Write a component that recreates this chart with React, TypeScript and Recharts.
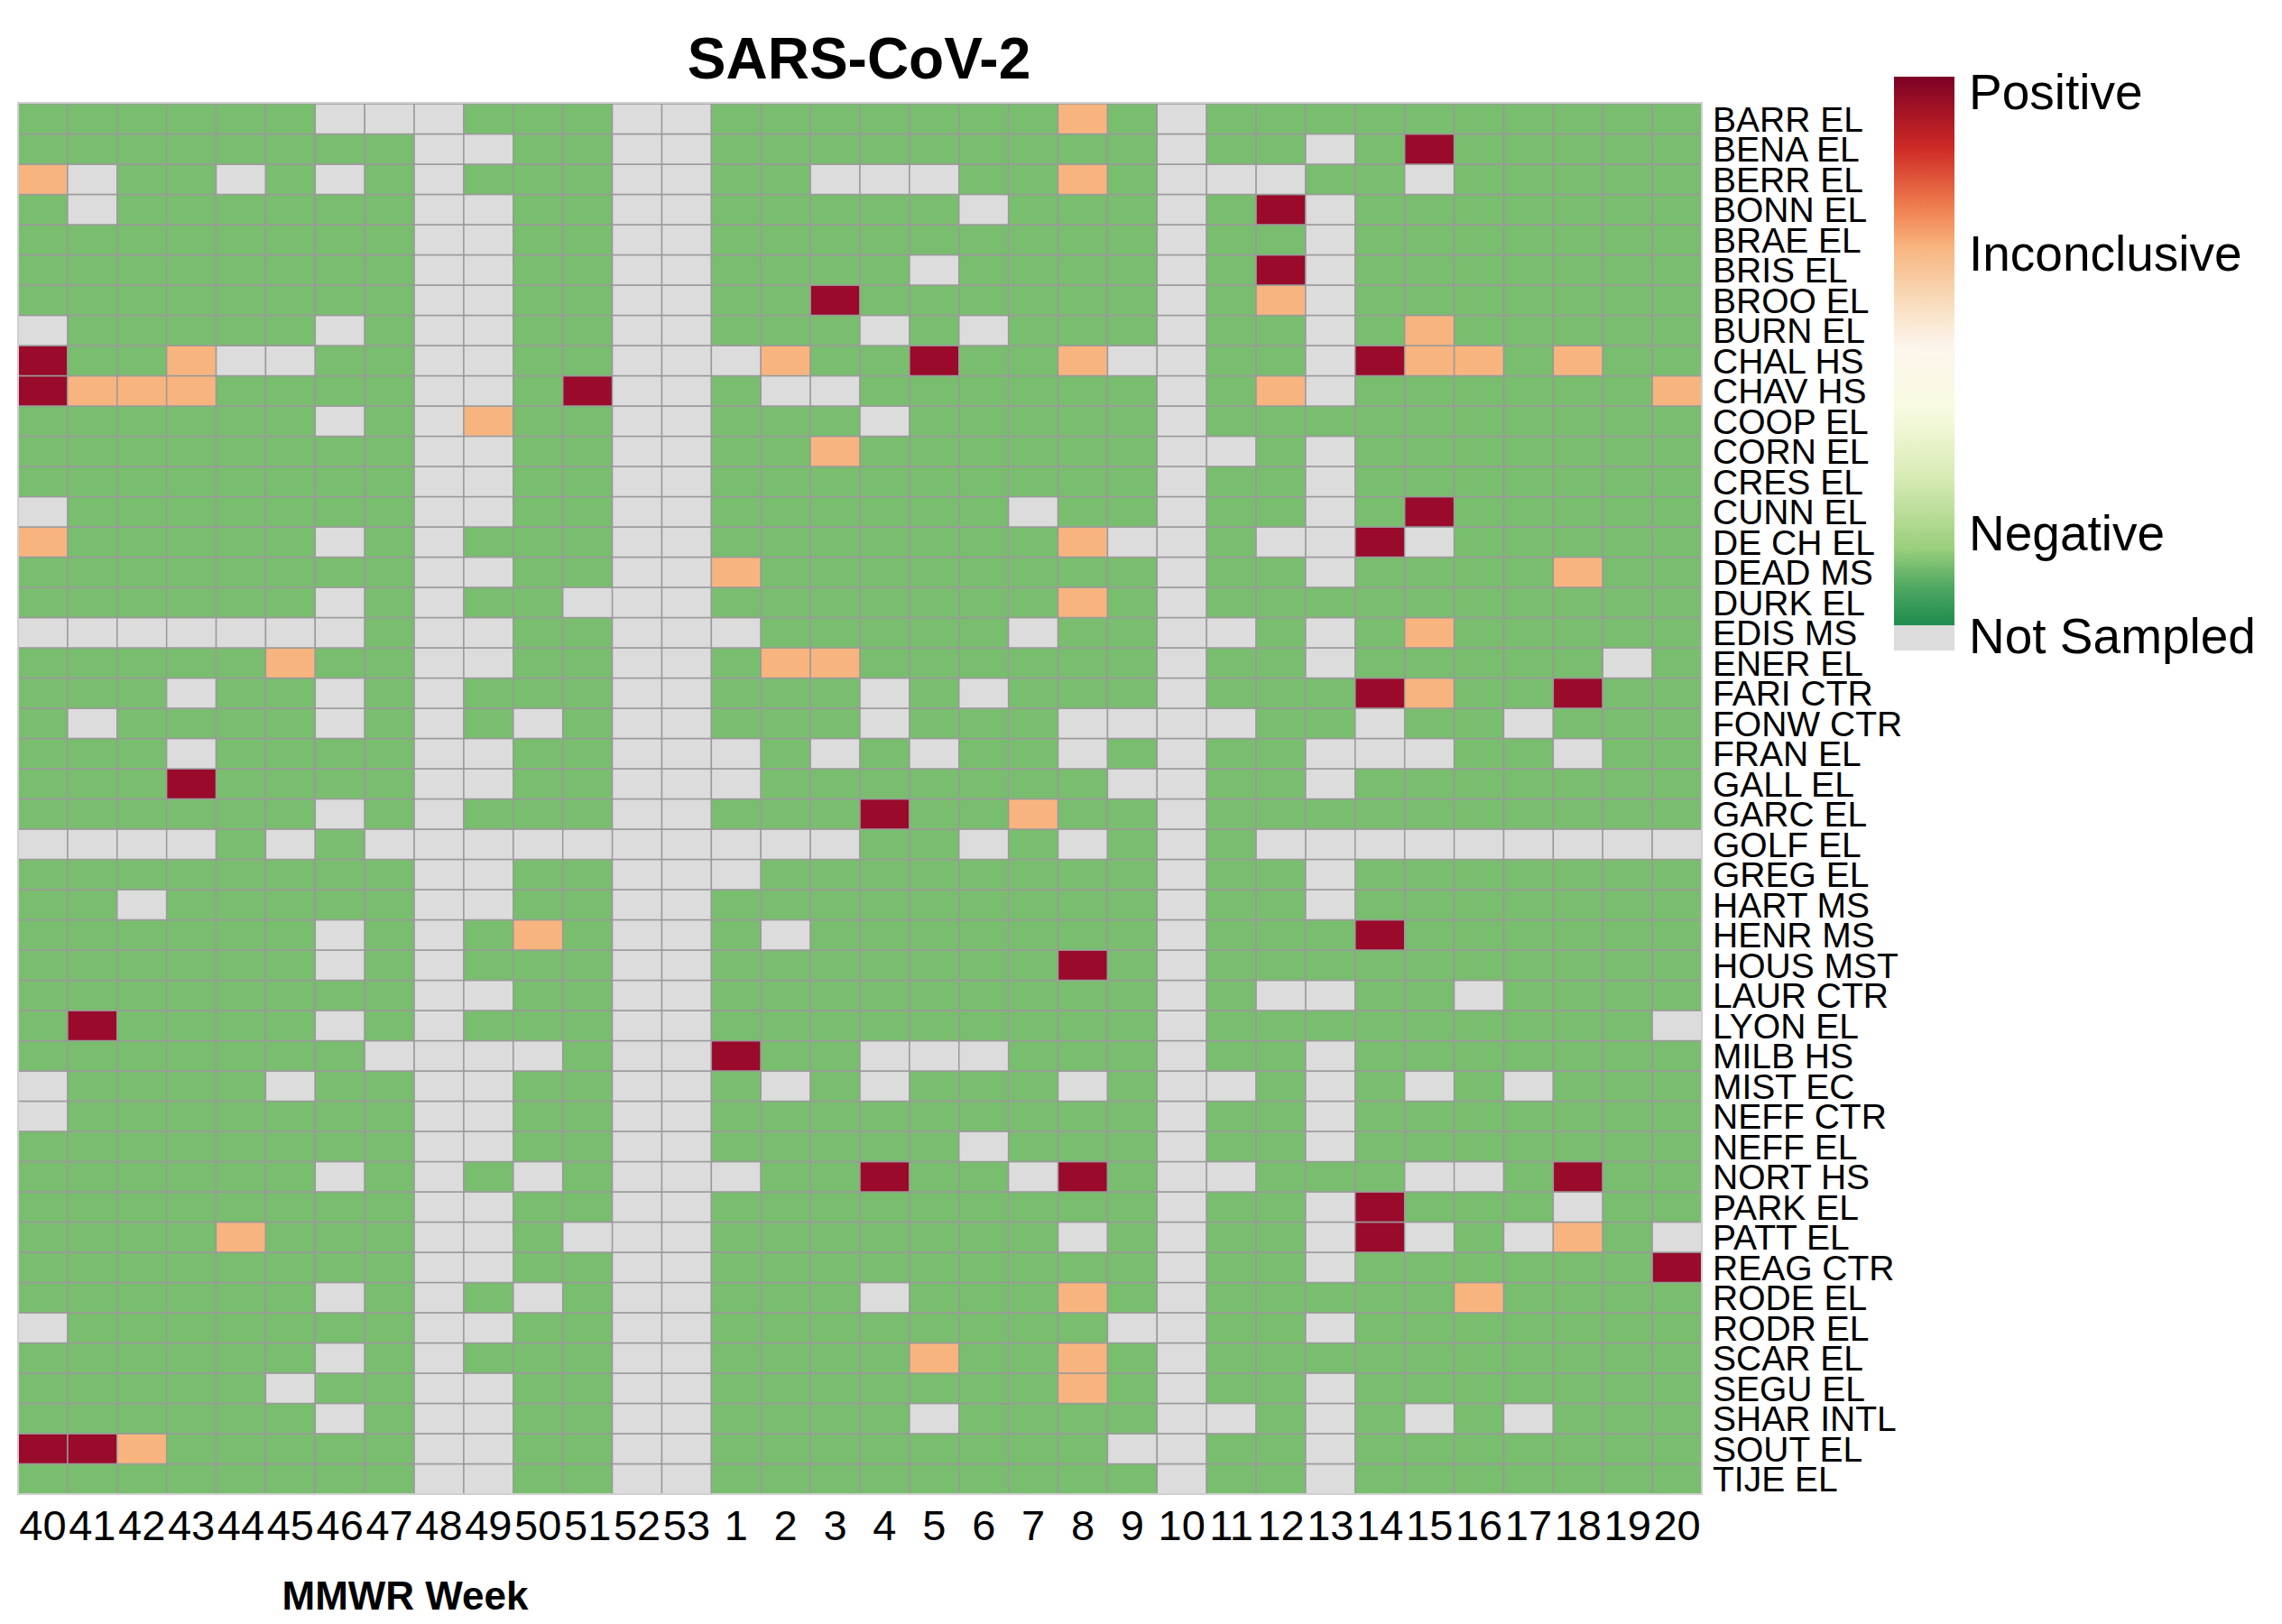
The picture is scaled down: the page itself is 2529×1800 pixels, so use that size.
import { BarChart, Bar, XAxis, YAxis, Cell } from "recharts";

const FONT = "'Liberation Sans', Arial, sans-serif";

const weeks = [
  "40", "41", "42", "43", "44", "45", "46", "47", "48", "49", "50", "51", "52", "53",
  "1", "2", "3", "4", "5", "6", "7", "8", "9", "10",
  "11", "12", "13", "14", "15", "16", "17", "18", "19", "20",
];

const sites = [
  "BARR EL", "BENA EL", "BERR EL", "BONN EL", "BRAE EL", "BRIS EL", "BROO EL", "BURN EL",
  "CHAL HS", "CHAV HS", "COOP EL", "CORN EL", "CRES EL", "CUNN EL", "DE CH EL", "DEAD MS",
  "DURK EL", "EDIS MS", "ENER EL", "FARI CTR", "FONW CTR", "FRAN EL", "GALL EL", "GARC EL",
  "GOLF EL", "GREG EL", "HART MS", "HENR MS", "HOUS MST", "LAUR CTR", "LYON EL", "MILB HS",
  "MIST EC", "NEFF CTR", "NEFF EL", "NORT HS", "PARK EL", "PATT EL", "REAG CTR", "RODE EL",
  "RODR EL", "SCAR EL", "SEGU EL", "SHAR INTL", "SOUT EL", "TIJE EL",
];

// one string per site, weeks 40-53 then 1-20
// P = positive, O = inconclusive, G = negative, N = not sampled
const results = [
  "GGGGGGNNNGGGNN GGGGGGGOGNGGGGGGGGGG",
  "GGGGGGGGNNGGNN GGGGGGGGGNGGNGPGGGGG",
  "ONGGNGNGNGGGNN GGNNNGGOGNNNGGNGGGGG",
  "GNGGGGGGNNGGNN GGGGGNGGGNGPNGGGGGGG",
  "GGGGGGGGNNGGNN GGGGGGGGGNGGNGGGGGGG",
  "GGGGGGGGNNGGNN GGGGNGGGGNGPNGGGGGGG",
  "GGGGGGGGNNGGNN GGPGGGGGGNGONGGGGGGG",
  "NGGGGGNGNNGGNN GGGNGNGGGNGGNGOGGGGG",
  "PGGONNGGNNGGNN NOGGPGGONNGGNPOOGOGG",
  "POOOGGGGNNGPNN GNNGGGGGGNGONGGGGGGO",
  "GGGGGGNGNOGGNN GGGNGGGGGNGGGGGGGGGG",
  "GGGGGGGGNNGGNN GGOGGGGGGNNGNGGGGGGG",
  "GGGGGGGGNNGGNN GGGGGGGGGNGGNGGGGGGG",
  "NGGGGGGGNNGGNN GGGGGGNGGNGGNGPGGGGG",
  "OGGGGGNGNGGGNN GGGGGGGONNGNNPNGGGGG",
  "GGGGGGGGNNGGNN OGGGGGGGGNGGNGGGGOGG",
  "GGGGGGNGNGGNNN GGGGGGGOGNGGGGGGGGGG",
  "NNNNNNNGNNGGNN NGGGGGNGGNNGNGOGGGGG",
  "GGGGGOGGNNGGNN GOOGGGGGGNGGNGGGGGNG",
  "GGGNGGNGNGGGNN GGGNGNGGGNGGGPOGGPGG",
  "GNGGGGNGNGNGNN GGGNGGGNNNNGGNGGNGGG",
  "GGGNGGGGNNGGNN NGNGNGGNGNGGNNNGGNGG",
  "GGGPGGGGNNGGNN NGGGGGGGNNGGNGGGGGGG",
  "GGGGGGNGNGGGNN GGGPGGOGGNGGGGGGGGGG",
  "NNNNGNGNNNNNNN NNNGGNGNGNGNNNNNNNNN",
  "GGGGGGGGNNGGNN NGGGGGGGGNGGNGGGGGGG",
  "GGNGGGGGNNGGNN GGGGGGGGGNGGNGGGGGGG",
  "GGGGGGNGNGOGNN GNGGGGGGGNGGGPGGGGGG",
  "GGGGGGNGNGGGNN GGGGGGGPGNGGGGGGGGGG",
  "GGGGGGGGNNGGNN GGGGGGGGGNGNNGGNGGGG",
  "GPGGGGNGNGGGNN GGGGGGGGGNGGGGGGGGGN",
  "GGGGGGGNNNNGNN PGGNNNGGGNGGNGGGGGGG",
  "NGGGGNGGNNGGNN GNGNGGGNGNNGNGNGNGGG",
  "NGGGGGGGNNGGNN GGGGGGGGGNGGNGGGGGGG",
  "GGGGGGGGNNGGNN GGGGGNGGGNGGNGGGGGGG",
  "GGGGGGNGNGNGNN NGGPGGNPGNNGGGNNGPGG",
  "GGGGGGGGNNGGNN GGGGGGGGGNGGNPGGGNGG",
  "GGGGOGGGNNGNNN GGGGGGGNGNGGNPNGNOGN",
  "GGGGGGGGNNGGNN GGGGGGGGGNGGNGGGGGGP",
  "GGGGGGNGNGNGNN GGGNGGGOGNGGGGGOGGGG",
  "NGGGGGGGNNGGNN GGGGGGGGNNGGNGGGGGGG",
  "GGGGGGNGNGGGNN GGGGOGGOGNGGGGGGGGGG",
  "GGGGGNGGNNGGNN GGGGGGGOGNGGNGGGGGGG",
  "GGGGGGNGNNGGNN GGGGNGGGGNNGNGNGNGGG",
  "PPOGGGGGNNGGNN GGGGGGGGNNGGNGGGGGGG",
  "GGGGGGGGNNGGNN GGGGGGGGGNGGNGGGGGGG",
];

const statusColor: Record<string, string> = {
  P: "#990A2B",
  O: "#F8B47F",
  G: "#79BD6E",
  N: "#DCDCDC",
};

const codes = results.map((r) => r.replace(" ", "").split(""));

// rows are stacked from the bottom, so TIJE EL goes first
const stackOrder = sites.map((_, i) => sites.length - 1 - i);

const data = weeks.map((week) => {
  const row: Record<string, string | number> = { week };
  sites.forEach((s) => {
    row[s] = 1;
  });
  return row;
});

const siteTicks = stackOrder.map((_, i) => i + 0.5);
const siteLabel = (v: number) => sites[stackOrder[Math.floor(v)]] ?? "";

const legendStops = [
  { offset: "0%", color: "#7D0025" },
  { offset: "13%", color: "#CE2A26" },
  { offset: "24%", color: "#F0804F" },
  { offset: "31%", color: "#F8B47F" },
  { offset: "40%", color: "#F8D8B5" },
  { offset: "49%", color: "#FCF5EC" },
  { offset: "60%", color: "#F9FBE2" },
  { offset: "73%", color: "#D8EBB5" },
  { offset: "86%", color: "#9ACF7C" },
  { offset: "93%", color: "#4FA862" },
  { offset: "100%", color: "#1E8B4E" },
];

const App = () => {
  return (
    <div
      style={{
        position: "absolute",
        left: 0,
        top: 0,
        width: 2529,
        height: 1800,
        background: "#fff",
        fontFamily: FONT,
      }}
    >
      <BarChart
        width={2529}
        height={1800}
        data={data}
        margin={{ top: 115, right: 0, bottom: 84, left: 20 }}
        barCategoryGap={0}
        barGap={0}
      >
        <XAxis
          dataKey="week"
          interval={0}
          height={60}
          tickLine={false}
          axisLine={false}
          tickMargin={12}
          tick={{ fontSize: 47, fill: "#000", fontFamily: FONT }}
        />
        <YAxis
          type="number"
          orientation="right"
          domain={[0, sites.length]}
          ticks={siteTicks}
          tickFormatter={siteLabel}
          interval={0}
          width={643}
          tickLine={false}
          axisLine={false}
          tickMargin={6}
          tick={{ fontSize: 39, fill: "#000", fontFamily: FONT, textAnchor: "start" }}
        />
        {stackOrder.map((si) => (
          <Bar
            key={sites[si]}
            dataKey={sites[si]}
            stackId="grid"
            stroke="#9A9A9A"
            strokeWidth={1.5}
            isAnimationActive={false}
          >
            {weeks.map((w, wi) => (
              <Cell key={w} fill={statusColor[codes[si][wi]]} />
            ))}
          </Bar>
        ))}
      </BarChart>

      <svg
        width={2529}
        height={1800}
        style={{ position: "absolute", left: 0, top: 0, pointerEvents: "none" }}
      >
        <defs>
          <linearGradient id="scale" x1="0" y1="0" x2="0" y2="1">
            {legendStops.map((s) => (
              <stop key={s.offset} offset={s.offset} stopColor={s.color} />
            ))}
          </linearGradient>
        </defs>
        <rect x={20} y={114} width={1866} height={1542} fill="none" stroke="#CFCFCF" strokeWidth={2} />
        <text x={952} y={87} textAnchor="middle" fontSize={64} fontWeight="bold" fontFamily={FONT}>
          SARS-CoV-2
        </text>
        <text x={449} y={1784} textAnchor="middle" fontSize={44} fontWeight="bold" fontFamily={FONT}>
          MMWR Week
        </text>
        <rect x={2099} y={85} width={67} height={608} fill="url(#scale)" />
        <rect x={2099} y={693} width={67} height={28} fill="#DCDCDC" />
        <g fontSize={55} fontFamily={FONT} fill="#000">
          <text x={2182} y={121}>Positive</text>
          <text x={2182} y={300}>Inconclusive</text>
          <text x={2182} y={610}>Negative</text>
          <text x={2182} y={724}>Not Sampled</text>
        </g>
      </svg>
    </div>
  );
};

export default App;
